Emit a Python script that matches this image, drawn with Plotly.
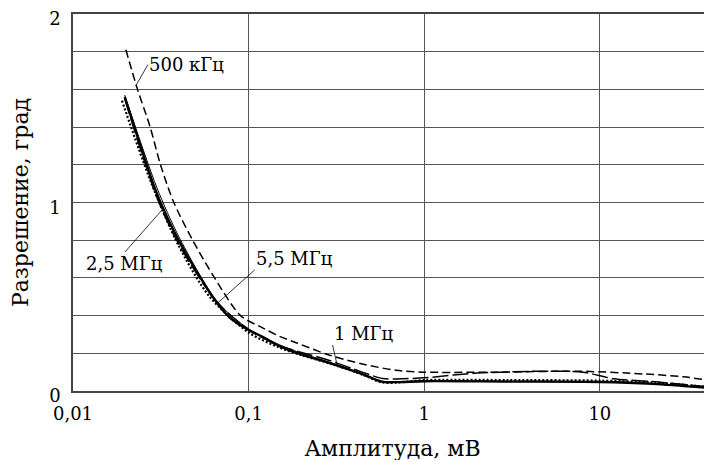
import math
import plotly.graph_objects as go

# 500 кГц (short dash)
x_500k = [0.02, 0.0233, 0.0275, 0.0315, 0.0375, 0.048, 0.064, 0.09, 0.12, 0.15, 0.188, 0.289, 0.444, 0.69, 1.0, 2.67, 7.6, 18.0, 30.0, 43.0]
y_500k = [1.81, 1.60, 1.40, 1.20, 1.00, 0.80, 0.60, 0.40, 0.335, 0.29, 0.255, 0.19, 0.143, 0.11, 0.10, 0.10, 0.105, 0.09, 0.075, 0.055]

# 1 МГц (long dash)
x_1m = [0.0197, 0.03, 0.04, 0.065, 0.1, 0.15, 0.2, 0.289, 0.444, 0.58, 0.7, 1.0, 2.0, 5.0, 8.0, 12.0, 20.0, 43.0]
y_1m = [1.55, 1.03, 0.78, 0.48, 0.325, 0.24, 0.205, 0.162, 0.1, 0.066, 0.064, 0.07, 0.095, 0.105, 0.10, 0.065, 0.05, 0.02]

# 2,5 МГц (thick solid)
x_2m5 = [0.0197, 0.0281, 0.0312, 0.0405, 0.0624, 0.078, 0.1, 0.12, 0.15, 0.188, 0.289, 0.444, 0.57, 0.7, 1.0, 3.0, 10.0, 20.0, 43.0]
y_2m5 = [1.56, 1.12, 1.01, 0.79, 0.50, 0.39, 0.324, 0.287, 0.238, 0.202, 0.148, 0.09, 0.05, 0.047, 0.052, 0.05, 0.048, 0.038, 0.015]

# 5,5 МГц (thin solid)
x_5m5 = [0.0197, 0.03, 0.04, 0.0667, 0.1, 0.15, 0.2, 0.3, 0.444, 0.57, 0.7, 1.0, 3.0, 10.0, 20.0, 43.0]
y_5m5 = [1.57, 1.08, 0.82, 0.47, 0.33, 0.245, 0.2, 0.148, 0.09, 0.052, 0.048, 0.054, 0.052, 0.05, 0.04, 0.015]

# dotted curve
x_dot = [0.019, 0.028, 0.04, 0.06, 0.1, 0.15, 0.2, 0.3, 0.45, 0.57, 0.7, 1.0, 3.0, 10.0, 20.0, 43.0]
y_dot = [1.54, 1.10, 0.77, 0.50, 0.31, 0.23, 0.19, 0.142, 0.085, 0.046, 0.045, 0.058, 0.058, 0.055, 0.045, 0.02]

x_tickvals = [0.01, 0.1, 1, 10]
x_ticktext = ["0,01", "0,1", "1", "10"]
y_tickvals = [0, 0.2, 0.4, 0.6, 0.8, 1.0, 1.2, 1.4, 1.6, 1.8, 2.0]
y_ticktext = ["0", "", "", "", "", "1", "", "", "", "", "2"]

FONT = "DejaVu Serif"
fig = go.Figure()

def add(x, y, width, dash):
    fig.add_trace(go.Scatter(x=x, y=y, mode="lines",
                             line=dict(color="black", width=width, dash=dash,
                                       shape="spline", smoothing=0.8),
                             showlegend=False, hoverinfo="skip"))

add(x_500k, y_500k, 1.5, "8px,4px")
add(x_1m, y_1m, 1.5, "16px,4px")
add(x_dot, y_dot, 2.2, "2px,2px")
add(x_5m5, y_5m5, 1.0, "solid")
add(x_2m5, y_2m5, 2.4, "solid")

ann_font = dict(family=FONT, size=18, color="black")
labels = [
    # text, x, y (curve point), ax, ay, xanchor, yanchor
    ("500 кГц", 0.0228, 1.62, 12, -21, "left", "middle"),
    ("2,5 МГц", 0.0321, 0.96, -37, 42, "center", "top"),
    ("5,5 МГц", 0.0667, 0.467, 37, -33, "left", "bottom"),
    ("1 МГц", 0.321, 0.127, -5, -22, "left", "bottom"),
]
for t, xv, yv, ax, ay, xa, ya in labels:
    fig.add_annotation(text=t, x=math.log10(xv), y=yv, xref="x", yref="y",
                       ax=ax, ay=ay, showarrow=True, arrowhead=0, arrowwidth=0.8,
                       arrowcolor="black", xanchor=xa, yanchor=ya,
                       font=ann_font, borderpad=0)

# page body has an 8px default margin; margins compensate so the plot area
# lands at x 73..712, y 14..391 in the window
fig.update_layout(
    width=712, height=460,
    margin=dict(l=65, r=8, t=6, b=77),
    plot_bgcolor="white", paper_bgcolor="white",
    font=dict(family=FONT, size=18, color="black"),
)
fig.update_xaxes(type="log", range=[-2, math.log10(43.5)], automargin=False,
                 tickvals=x_tickvals, ticktext=x_ticktext,
                 showgrid=True, gridcolor="#555", gridwidth=1,
                 showline=True, linecolor="#444", linewidth=1.5, mirror=True,
                 ticks="", ticklabelstandoff=6, zeroline=False,
                 ticklabeloverflow="allow",
                 title=dict(text="Амплитуда, мВ", standoff=17))
fig.update_yaxes(range=[0, 2], tickvals=y_tickvals, ticktext=y_ticktext, automargin=False,
                 showgrid=True, gridcolor="#555", gridwidth=1,
                 showline=True, linecolor="#444", linewidth=1.5,
                 ticks="", ticklabelstandoff=7, ticklabelshift=5, zeroline=False,
                 ticklabeloverflow="allow",
                 title=dict(text="Разрешение, град", standoff=14))

fig.write_html("out.html")
